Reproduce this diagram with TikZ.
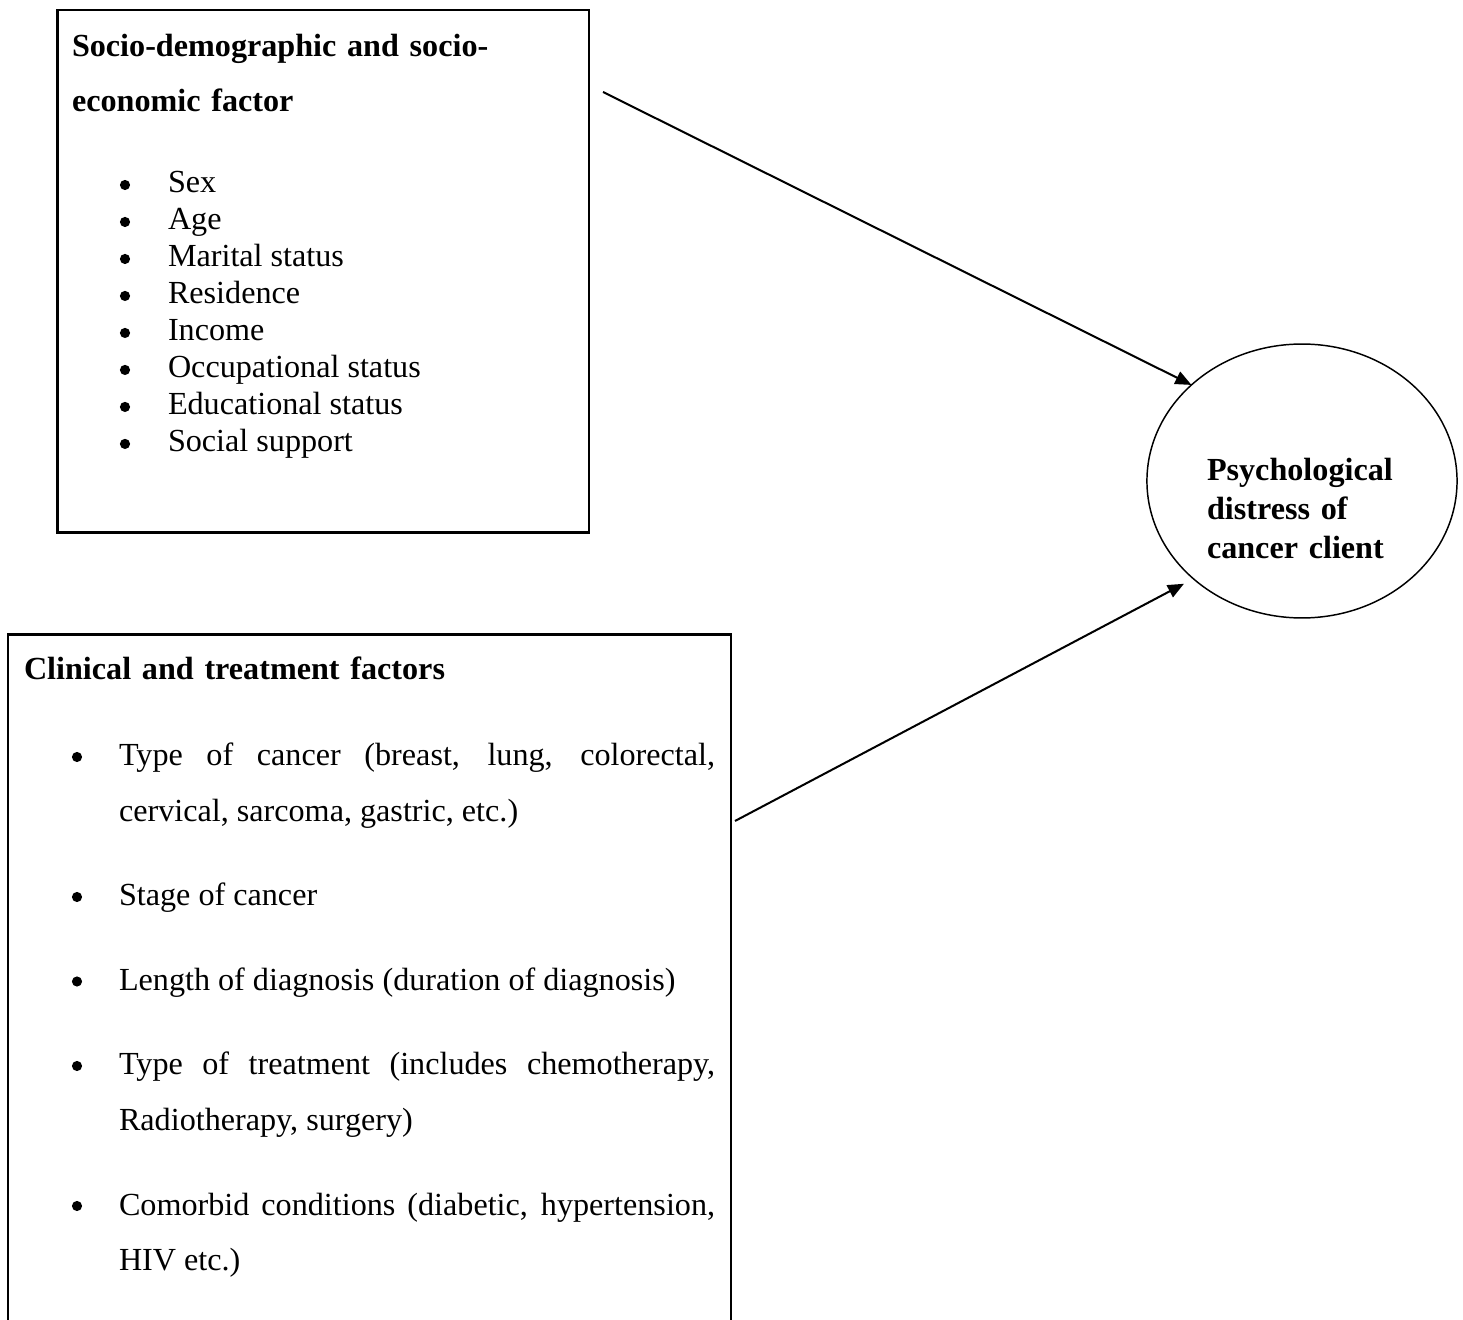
\documentclass[tikz,border=0pt]{standalone}
\usepackage{fontspec}
\setmainfont{Liberation Serif}
\usetikzlibrary{shapes.geometric,arrows.meta}

\begin{document}
\begin{tikzpicture}[x=0.3731pt, y=-0.3731pt,
  every node/.style={inner sep=0pt, outer sep=0pt},
  factorbox/.style={draw, anchor=north west},
  itemtext/.style={anchor=base west, font=\fontsize{12}{13.8}\selectfont},
  headtext/.style={anchor=base west, text width=#1, font=\fontsize{12}{20.3}\selectfont\bfseries\fontdimen2\font 2.3pt\relax},
  bodytext/.style={anchor=base west, align=justify, text width=222.4pt, font=\fontsize{12}{20.7}\selectfont\hyphenpenalty10000\relax},
  link/.style={-{Triangle[length=6pt, width=5pt]}, line width=0.75pt}]
  \useasboundingbox (0,0) rectangle (1463,1320);
  \clip (0,0) rectangle (1463,1320);
  \node [factorbox, line width=1.1pt, minimum width=198.3pt, minimum height=195.1pt] (socio) at (57.5,10) {};
  \node [factorbox, line width=0.8pt, minimum width=269.6pt, minimum height=265pt] (clinic) at (8.3,634.5) {};
  \node [ellipse, draw, line width=0.55pt, minimum width=115.7pt, minimum height=102.2pt] (distress) at (1302,481) {};
  \node [headtext=200pt] (sociohead) at (72,57) {Socio-demographic and socio-\\economic factor};
  \foreach \factor [count=\i] in {Sex, Age, Marital status, Residence, Income, Occupational status, Educational status, Social support} {
    \fill (125, {185+36.99*(\i-1)}) circle (1.9pt);
    \node [itemtext] (socio\i) at (168, {193+36.99*(\i-1)}) {\factor};
  }
  \node [headtext=260pt] (clinichead) at (24,680) {Clinical and treatment factors};
  \foreach \yy/\factor [count=\i] in {766/{Type of cancer (breast, lung, colorectal, cervical, sarcoma, gastric, etc.)}, 906/{Stage of cancer}, 990.5/{Length of diagnosis (duration of diagnosis)}, 1075/{Type of treatment (includes chemotherapy, Radiotherapy, surgery)}, 1215/{Comorbid conditions (diabetic, hypertension, HIV etc.)}} {
    \fill (77, \yy-9) circle (1.9pt);
    \node [bodytext] (clinic\i) at (119, \yy) {\factor};
  }
  \node [anchor=base west, text width=80pt, font=\fontsize{12}{14.4}\selectfont\bfseries\fontdimen2\font 2.3pt\relax] (distresslabel) at (1207,481) {Psychological\\distress of\\cancer client};
  \coordinate (sociotail) at (603,92);
  \coordinate (clinictail) at (735,821);
  \draw [link] (sociotail) -- (distress.139);
  \draw [link, shorten >=4pt] (clinictail) -- (distress.222);
\end{tikzpicture}
\end{document}
